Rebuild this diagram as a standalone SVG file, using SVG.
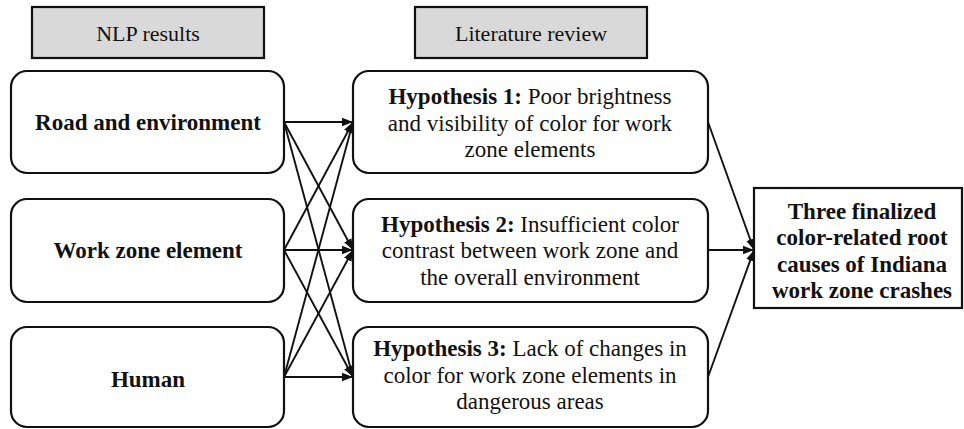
<svg xmlns="http://www.w3.org/2000/svg" width="964" height="429" viewBox="0 0 964 429">
  <style>
    .hdr { fill: #d9d9d9; stroke: #111; stroke-width: 2.2; }
    .box { fill: #fff; stroke: #111; stroke-width: 2.2; }
    .t { font-family: "Liberation Serif", "Times New Roman", serif; font-size: 23px; fill: #111; text-anchor: middle; }
    .th { font-family: "Liberation Serif", "Times New Roman", serif; font-size: 22px; fill: #111; text-anchor: middle; }
    .b { font-weight: bold; }
    .link { fill: none; stroke: #111; stroke-width: 1.9; marker-end: url(#arrow); }
  </style>
  <defs>
    <marker id="arrow" markerUnits="userSpaceOnUse" markerWidth="12" markerHeight="10" refX="11" refY="5" orient="auto">
      <path d="M0,0.8 L11,5 L0,9.2 Z" fill="#111"/>
    </marker>
  </defs>
  <rect width="964" height="429" fill="#fff"/>

  <!-- column headers -->
  <g id="hdr-nlp">
    <rect class="hdr" x="32" y="7" width="232" height="51"/>
    <text class="th" x="148" y="41">NLP results</text>
  </g>
  <g id="hdr-lit">
    <rect class="hdr" x="415" y="7" width="232" height="51"/>
    <text class="th" x="531" y="41">Literature review</text>
  </g>

  <!-- NLP result categories -->
  <g id="road">
    <rect class="box" x="11" y="71" width="273" height="102" rx="16"/>
    <text class="t b" x="148" y="130">Road and environment</text>
  </g>
  <g id="workzone">
    <rect class="box" x="11" y="199" width="273" height="103" rx="16"/>
    <text class="t b" x="148" y="258">Work zone element</text>
  </g>
  <g id="human">
    <rect class="box" x="11" y="327" width="273" height="100" rx="16"/>
    <text class="t b" x="148" y="387">Human</text>
  </g>

  <!-- hypotheses -->
  <g id="hyp1">
    <rect class="box" x="353" y="71" width="355" height="102" rx="16"/>
    <text class="t" x="530" y="104"><tspan class="b">Hypothesis 1:</tspan> Poor brightness</text>
    <text class="t" x="530" y="131">and visibility of color for work</text>
    <text class="t" x="530" y="157">zone elements</text>
  </g>
  <g id="hyp2">
    <rect class="box" x="353" y="199" width="355" height="103" rx="16"/>
    <text class="t" x="530" y="232"><tspan class="b">Hypothesis 2:</tspan> Insufficient color</text>
    <text class="t" x="530" y="258">contrast between work zone and</text>
    <text class="t" x="530" y="285">the overall environment</text>
  </g>
  <g id="hyp3">
    <rect class="box" x="353" y="327" width="355" height="100" rx="16"/>
    <text class="t" x="530" y="356"><tspan class="b">Hypothesis 3:</tspan> Lack of changes in</text>
    <text class="t" x="530" y="383">color for work zone elements in</text>
    <text class="t" x="530" y="409">dangerous areas</text>
  </g>

  <!-- outcome -->
  <g id="result">
    <rect class="box" x="754" y="188" width="208" height="120"/>
    <text class="t b" x="862" y="219">Three finalized</text>
    <text class="t b" x="862" y="245">color-related root</text>
    <text class="t b" x="862" y="272">causes of Indiana</text>
    <text class="t b" x="862" y="298">work zone crashes</text>
  </g>

  <!-- connectors -->
  <g id="connectors">
    <line class="link" x1="284" y1="122" x2="353" y2="122"/>
    <line class="link" x1="284" y1="122" x2="353" y2="250"/>
    <line class="link" x1="284" y1="122" x2="353" y2="377"/>
    <line class="link" x1="284" y1="250" x2="353" y2="122"/>
    <line class="link" x1="284" y1="250" x2="353" y2="250"/>
    <line class="link" x1="284" y1="250" x2="353" y2="377"/>
    <line class="link" x1="284" y1="377" x2="353" y2="122"/>
    <line class="link" x1="284" y1="377" x2="353" y2="250"/>
    <line class="link" x1="284" y1="377" x2="353" y2="377"/>
    <line class="link" x1="708" y1="122" x2="754" y2="250"/>
    <line class="link" x1="708" y1="250" x2="754" y2="250"/>
    <line class="link" x1="708" y1="377" x2="754" y2="250"/>
  </g>
</svg>
